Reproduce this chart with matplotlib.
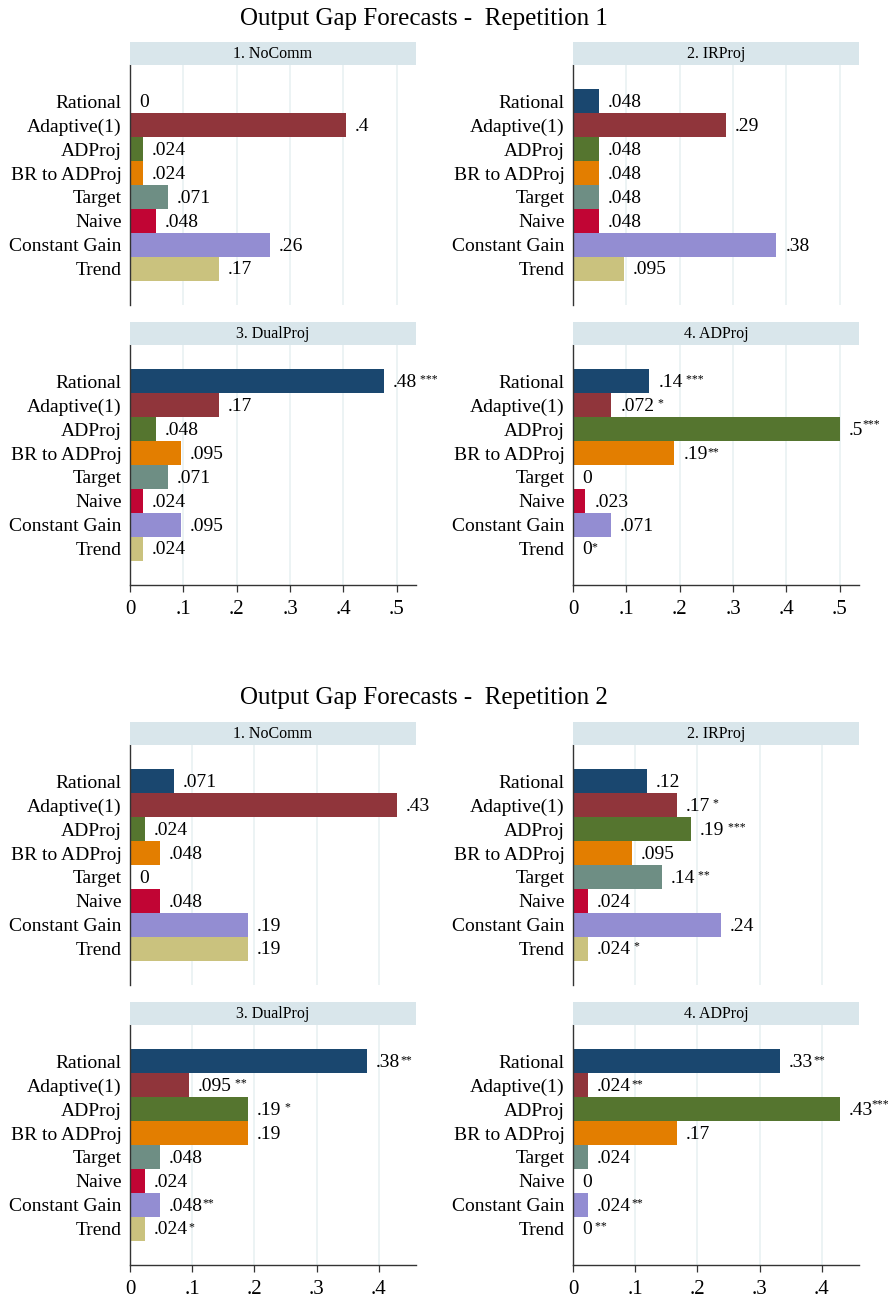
import matplotlib
matplotlib.use("Agg")
import matplotlib.pyplot as plt

plt.rcParams["font.family"] = ["Liberation Serif", "DejaVu Serif"]

categories = ["Rational", "Adaptive(1)", "ADProj", "BR to ADProj",
              "Target", "Naive", "Constant Gain", "Trend"]
colors = ["#1a476f", "#90353b", "#55752f", "#e37e00",
          "#6e8e84", "#c10534", "#938dd2", "#cac27e"]
panel_titles = ["1. NoComm", "2. IRProj", "3. DualProj", "4. ADProj"]
section_titles = ["Output Gap Forecasts -  Repetition 1",
                  "Output Gap Forecasts -  Repetition 2"]

# repetition 1
rep1_values = [
    [0, 0.404, 0.024, 0.024, 0.071, 0.048, 0.262, 0.167],
    [0.048, 0.286, 0.048, 0.048, 0.048, 0.048, 0.381, 0.095],
    [0.476, 0.167, 0.048, 0.095, 0.071, 0.024, 0.095, 0.024],
    [0.143, 0.072, 0.5, 0.19, 0, 0.023, 0.071, 0],
]
rep1_stars = [
    [""] * 8,
    [""] * 8,
    [" ***", "", "", "", "", "", "", ""],
    [" ***", " *", "***", "**", "", "", "", "*"],
]
# repetition 2
rep2_values = [
    [0.071, 0.429, 0.024, 0.048, 0, 0.048, 0.19, 0.19],
    [0.119, 0.167, 0.19, 0.095, 0.143, 0.024, 0.238, 0.024],
    [0.381, 0.095, 0.19, 0.19, 0.048, 0.024, 0.048, 0.024],
    [0.333, 0.024, 0.429, 0.167, 0.024, 0, 0.024, 0],
]
rep2_stars = [
    [""] * 8,
    ["", " *", " ***", "", " **", "", "", " *"],
    ["**", " **", " *", "", "", "", "**", "*"],
    ["**", "**", "***", "", "", "", "**", " **"],
]
rep1_ticks = [0, 0.1, 0.2, 0.3, 0.4, 0.5]
rep2_ticks = [0, 0.1, 0.2, 0.3, 0.4]
tick_labels = ["0", ".1", ".2", ".3", ".4", ".5"]


def fmt(v):
    if v == 0:
        return "0"
    s = "{:.2g}".format(v)
    return s.replace("0.", ".", 1)


W, H = 891, 1298
fig = plt.figure(figsize=(W / 100, H / 100), dpi=100)
fig.patch.set_facecolor("white")

col_left = [130, 573]
col_width = 286
rows = [(65, 305), (345, 585), (745, 985), (1025, 1265)]
title_y = [19, 698]
strip_h = 23

sections = [
    (rep1_values, rep1_stars, rep1_ticks, 0.536),
    (rep2_values, rep2_stars, rep2_ticks, 0.46),
]

y_pos = list(range(len(categories)))

for si, (values, stars, ticks, xmax) in enumerate(sections):
    fig.text(424 / W, 1 - title_y[si] / H, section_titles[si], ha="center",
             va="center", fontsize=18)
    for p in range(4):
        r = si * 2 + p // 2
        c = p % 2
        top, bot = rows[r]
        ax = fig.add_axes([col_left[c] / W, 1 - bot / H, col_width / W,
                           (bot - top) / H])
        sax = fig.add_axes([col_left[c] / W, 1 - top / H, col_width / W,
                            strip_h / H])
        sax.set_facecolor("#d9e6eb")
        sax.set_xticks([])
        sax.set_yticks([])
        for sp in sax.spines.values():
            sp.set_visible(False)
        sax.text(0.5, 0.5, panel_titles[p], ha="center", va="center",
                 fontsize=11.5, transform=sax.transAxes)

        vals = values[p]
        ax.barh(y_pos, vals, height=1.0, color=colors, linewidth=0)
        ax.set_xlim(0, xmax)
        ax.set_ylim(7.5 + 1.025, -0.5 - 1.025)
        for t in ticks[1:]:
            ax.axvline(t, color="#eaf2f3", linewidth=1.3, zorder=0)
        ax.set_yticks(y_pos)
        ax.set_yticklabels(categories, fontsize=14)
        ax.tick_params(axis="y", length=0, pad=6)
        for sp in ["top", "right"]:
            ax.spines[sp].set_visible(False)
        ax.spines["left"].set_color("#333333")
        ax.spines["left"].set_linewidth(1.0)
        if r % 2 == 1:
            ax.set_xticks(ticks)
            ax.set_xticklabels(tick_labels[:len(ticks)], fontsize=15)
            ax.tick_params(axis="x", length=5, width=0.9, color="#333333",
                           pad=6)
            ax.spines["bottom"].set_color("#333333")
            ax.spines["bottom"].set_linewidth(1.0)
        else:
            ax.set_xticks([])
            ax.spines["bottom"].set_visible(False)

        for i, v in enumerate(vals):
            txt = ax.annotate(fmt(v), xy=(v, i), xytext=(6.5, -1),
                              textcoords="offset points", ha="left",
                              va="center", fontsize=14)
            st = stars[p][i]
            if st:
                raise_pt = 3 if st == "***" else 0
                dx = -0.8 if st == "***" else 0
                ax.annotate(st, xy=(1, 1), xycoords=txt,
                            xytext=(dx, raise_pt),
                            textcoords="offset points", ha="left", va="top",
                            fontsize=8.5)

fig.savefig("out.png", dpi=100, facecolor="white")
